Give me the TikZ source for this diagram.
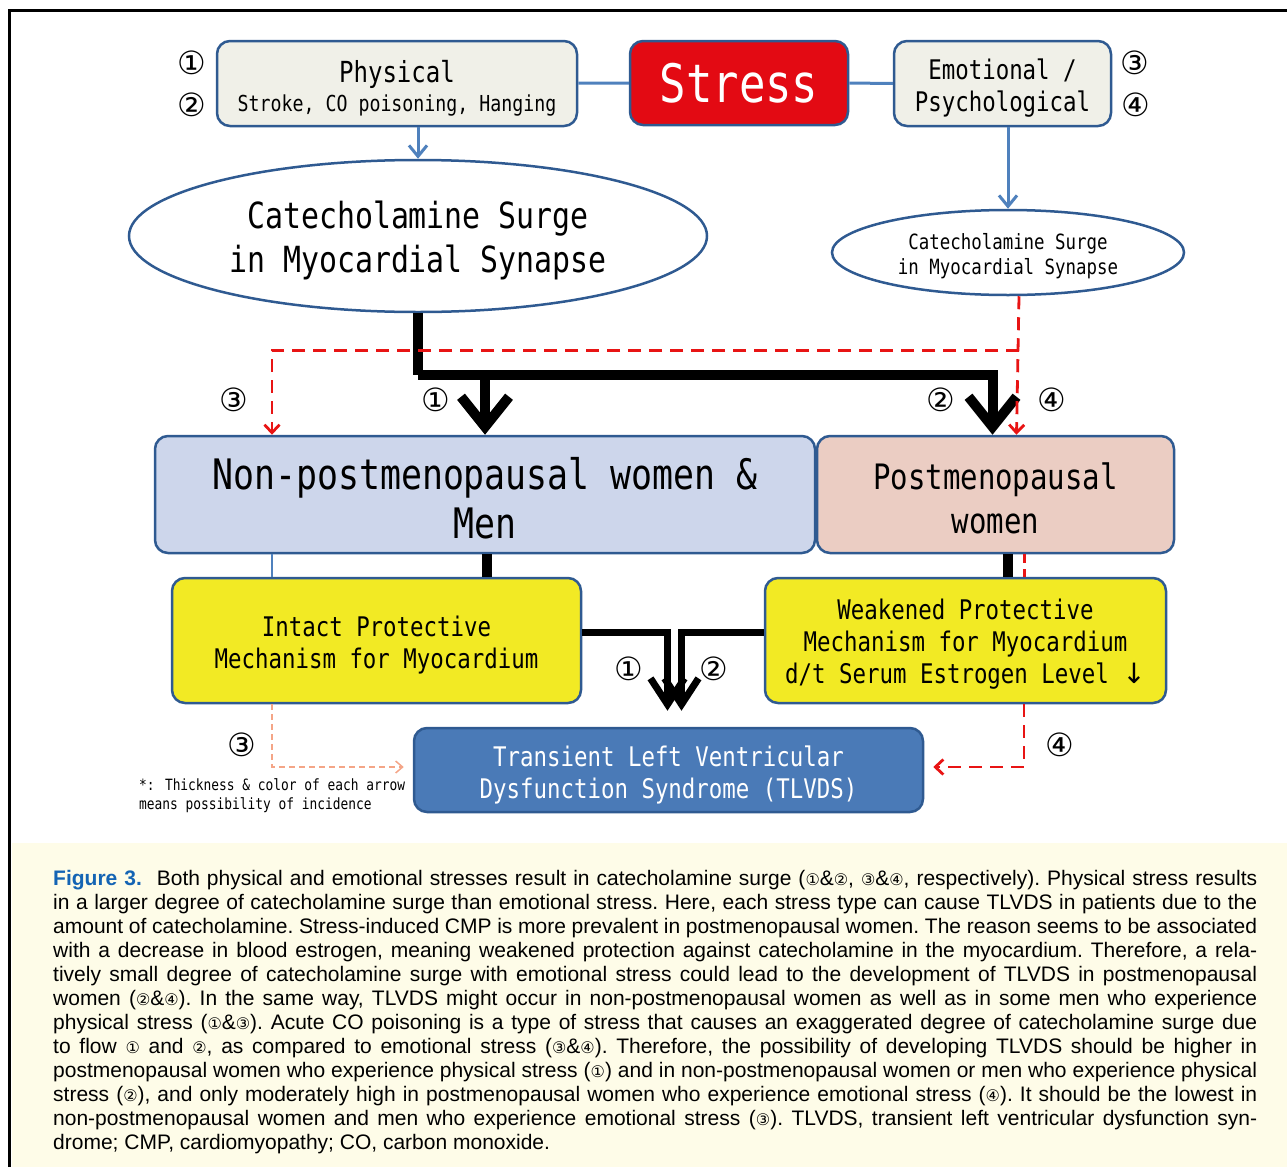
\documentclass[tikz,border=0pt]{standalone}
\usepackage{fontspec}
\usetikzlibrary{arrows.meta,shapes.geometric}
\newfontfamily\gothic[FakeStretch=0.83]{DejaVu Sans Mono}
\newfontfamily\capfont[FakeStretch=1.0]{Liberation Sans}
\newfontfamily\circfont{DejaVu Sans}
\definecolor{edgeblue}{RGB}{47,90,145}
\definecolor{linkblue}{RGB}{79,129,189}
\definecolor{beige}{RGB}{240,240,232}
\definecolor{stressred}{RGB}{227,10,19}
\definecolor{paleblue}{RGB}{205,214,235}
\definecolor{palepink}{RGB}{235,205,195}
\definecolor{boxyellow}{RGB}{242,234,36}
\definecolor{tlblue}{RGB}{74,122,183}
\definecolor{dashred}{RGB}{232,20,20}
\definecolor{salmon}{RGB}{244,165,135}
\definecolor{capbg}{RGB}{254,252,232}
\definecolor{figblue}{RGB}{20,100,180}
\newcommand\cnum[1]{{\circfont\fontsize{16}{16}\selectfont #1}}
\newcommand\lift[1]{\rule{0pt}{#1pt}}
\begin{document}
\begin{tikzpicture}[x=1pt,y=-1pt,
	box/.style={draw=edgeblue,line width=2.5pt,rounded corners=13pt,inner sep=0pt,align=center},
	oval/.style={ellipse,draw=edgeblue,line width=2.5pt,inner sep=0pt,align=center,fill=white},
	num/.style={font=\circfont\fontsize{32}{32}\selectfont,inner sep=0pt},
	link/.style={draw=linkblue,line width=3pt},
	linkarr/.style={link,-{Straight Barb[length=11pt,width=18pt]}},
	bigarr/.style={line width=10pt,-{Straight Barb[length=30pt,width=48pt]}},
	midarr/.style={line width=7pt,-{Straight Barb[length=26pt,width=34pt]}},
	reddash/.style={draw=dashred,line width=2.8pt,dash pattern=on 13pt off 8pt,-{Straight Barb[length=8pt,width=15pt]}},
	paledash/.style={draw=salmon,line width=1.5pt,dash pattern=on 6pt off 4pt,-{Straight Barb[length=7pt,width=12pt]}}]
\useasboundingbox(0,0)rectangle(1287,1167);
\fill[capbg](12,843)rectangle(1287,1167);
\draw[line width=3pt](9,1167)--(9,10)--(1287,10);
% stress row
\node[box,fill=beige,minimum width=360pt,minimum height=85pt,font=\gothic](phys)at(397,83.5)
	{\fontsize{29}{31}\selectfont\lift{32}Physical\\[5pt]\fontsize{22}{24}\selectfont Stroke, CO poisoning, Hanging};
\node[box,fill=stressred,text=white,minimum width=218pt,minimum height=84pt,font=\gothic\fontsize{53}{53}\selectfont](stress)at(739,83){Stress};
\node[box,fill=beige,minimum width=217pt,minimum height=85pt,font=\gothic\fontsize{27}{32}\selectfont](emo)at(1002.5,83.5){\lift{29.5}Emotional /\\Psychological};
\node[num](n1)at(192,63){①};
\node[num](n2)at(192,105){②};
\node[num](n3)at(1135,63){③};
\node[num](n4)at(1136,105){④};
\draw[link](phys)--(stress);
\draw[link](stress)--(emo);
% catecholamine
\node[oval,minimum width=578pt,minimum height=152pt,font=\gothic\fontsize{36}{44}\selectfont](catL)at(418,236)
	{\lift{35.5}Catecholamine Surge\\in Myocardial Synapse};
\node[oval,minimum width=352pt,minimum height=85pt,font=\gothic\fontsize{21}{25}\selectfont](catR)at(1008,252.5)
	{\lift{24}Catecholamine Surge\\in Myocardial Synapse};
\draw[linkarr](catL.north|-phys.south)--(catL.north);
\draw[linkarr](catR.north|-emo.south)--(catR.north);
% groups
\node[box,fill=paleblue,minimum width=660pt,minimum height=117pt,font=\gothic\fontsize{42}{49}\selectfont](nonPM)at(485,494.5)
	{\lift{39}Non-postmenopausal women \&\\Men};
\node[box,fill=palepink,minimum width=357pt,minimum height=117pt,font=\gothic\fontsize{35}{44}\selectfont](postW)at(995.5,494.5)
	{\lift{33.5}Postmenopausal\\women};
\coordinate(split)at(418,375);
\draw[line width=10pt](catL.south)--(split);
\draw[bigarr](split)-|([xshift=-3pt]postW.north);
\draw[bigarr](split-|nonPM.north)--(nonPM.north);
\draw[reddash]([xshift=11pt]catR.south)--([xshift=21pt]postW.north);
\draw[reddash]([xshift=11pt]catR.south)++(0,54)-|([xshift=-213pt]nonPM.north);
\node[num](m3)at(234,400){③};
\node[num](m1)at(436,400){①};
\node[num](m2)at(941,400){②};
\node[num](m4)at(1052,400){④};
% protection
\node[box,fill=boxyellow,minimum width=409pt,minimum height=125pt,font=\gothic\fontsize{27}{32}\selectfont](intact)at(376.5,640.5)
	{\lift{30.5}Intact Protective\\Mechanism for Myocardium};
\node[box,fill=boxyellow,minimum width=401pt,minimum height=125pt,font=\gothic\fontsize{27}{32}\selectfont](weak)at(965.5,640.5)
	{\lift{28.5}Weakened Protective\\Mechanism for Myocardium\\d/t Serum Estrogen Level {\circfont\fontsize{28}{28}\selectfont↓}};
\draw[line width=10pt]([xshift=2pt]nonPM.south)--([xshift=2pt]nonPM.south|-intact.north);
\draw[line width=10pt]([xshift=12pt]postW.south)--([xshift=12pt]postW.south|-weak.north);
\draw[draw=linkblue,line width=2pt]([xshift=-213pt]nonPM.south)--([xshift=-213pt]nonPM.south|-intact.north);
\draw[draw=dashred,line width=2.8pt,dash pattern=on 9pt off 6pt]([xshift=29pt]postW.south)--([xshift=29pt]postW.south|-weak.north);
% syndrome
\node[box,fill=tlblue,draw=edgeblue,text=white,minimum width=509pt,minimum height=84pt,font=\gothic\fontsize{27}{32}\selectfont](tlvds)at(668.5,770)
	{\lift{30.5}Transient Left Ventricular\\Dysfunction Syndrome (TLVDS)};
\draw[midarr]([yshift=8pt]intact.east)-|([xshift=-1pt,yshift=16pt]tlvds.north);
\draw[midarr]([yshift=8pt]weak.east-|weak.west)-|([xshift=13pt,yshift=16pt]tlvds.north);
\node[num](b1)at(629,669){①};
\node[num](b2)at(714,669){②};
\draw[paledash]([xshift=-104.5pt]intact.south)|-([xshift=-9pt,yshift=3pt]tlvds.west);
\draw[reddash]([xshift=58.5pt]weak.south)|-([xshift=9pt,yshift=3pt]tlvds.east);
\node[num](c3)at(242,745){③};
\node[num](c4)at(1060,745){④};
\node[anchor=west,align=left,inner sep=0pt,font=\gothic\fontsize{15.5}{19}\selectfont](note)at(139,796)
	{*: Thickness \& color of each arrow\\means possibility of incidence};
% caption
\node[anchor=north west,text width=1204pt,align=justify,inner sep=0pt,font=\capfont\fontsize{21}{24}\selectfont\frenchspacing](capt)at(53,870)
	{{\bfseries\color{figblue}Figure 3.}\hspace{8pt} Both physical and emotional stresses result in catecholamine surge (\cnum{①}\&\cnum{②}, \cnum{③}\&\cnum{④}, respectively). Physical stress results\linebreak
	in a larger degree of catecholamine surge than emotional stress. Here, each stress type can cause TLVDS in patients due to the\linebreak
	amount of catecholamine. Stress-induced CMP is more prevalent in postmenopausal women. The reason seems to be associated\linebreak
	with a decrease in blood estrogen, meaning weakened protection against catecholamine in the myocardium. Therefore, a rela-\linebreak
	tively small degree of catecholamine surge with emotional stress could lead to the development of TLVDS in postmenopausal\linebreak
	women (\cnum{②}\&\cnum{④}). In the same way, TLVDS might occur in non-postmenopausal women as well as in some men who experience\linebreak
	physical stress (\cnum{①}\&\cnum{③}). Acute CO poisoning is a type of stress that causes an exaggerated degree of catecholamine surge due\linebreak
	to flow \cnum{①} and \cnum{②}, as compared to emotional stress (\cnum{③}\&\cnum{④}). Therefore, the possibility of developing TLVDS should be higher in\linebreak
	postmenopausal women who experience physical stress (\cnum{①}) and in non-postmenopausal women or men who experience physical\linebreak
	stress (\cnum{②}), and only moderately high in postmenopausal women who experience emotional stress (\cnum{④}). It should be the lowest in\linebreak
	non-postmenopausal women and men who experience emotional stress (\cnum{③}). TLVDS, transient left ventricular dysfunction syn-\linebreak
	drome; CMP, cardiomyopathy; CO, carbon monoxide.};
\end{tikzpicture}
\end{document}
